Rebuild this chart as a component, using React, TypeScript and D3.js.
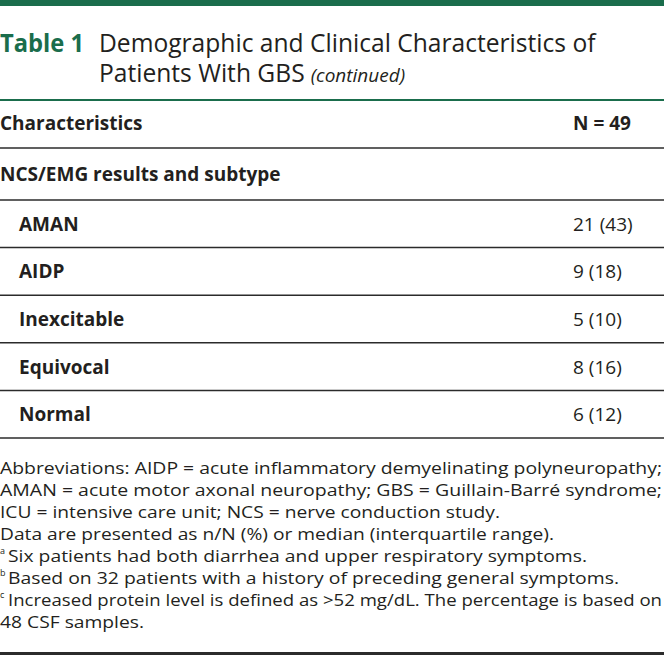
import React from "react";
import * as d3 from "d3";

const titleLabel = "Table 1";
const titleLines = ["Demographic and Clinical Characteristics of", "Patients With GBS"];
const titleSuffix = "(continued)";
const headerLabels = ["Characteristics", "N = 49"];
const sectionLabel = "NCS/EMG results and subtype";
const subtypes = ["AMAN", "AIDP", "Inexcitable", "Equivocal", "Normal"];
const counts = [21, 9, 5, 8, 6];
const percents = [43, 18, 10, 16, 12];
const footnoteSups = ["", "", "", "", "a", "b", "c", ""];
const footnoteTexts = [
  "Abbreviations: AIDP = acute inflammatory demyelinating polyneuropathy;",
  "AMAN = acute motor axonal neuropathy; GBS = Guillain-Barré syndrome;",
  "ICU = intensive care unit; NCS = nerve conduction study.",
  "Data are presented as n/N (%) or median (interquartile range).",
  "Six patients had both diarrhea and upper respiratory symptoms.",
  "Based on 32 patients with a history of preceding general symptoms.",
  "Increased protein level is defined as >52 mg/dL. The percentage is based on",
  "48 CSF samples.",
];

// layout (measured line extents in px)
const noteWidths = [662, 662, 500, 554, 587, 619, 662, 144];

const W = 664;
const H = 655;
const GREEN = "#1a6d4c";
const INK = "#231f20";
const RULE = "#2b2b2b";
const FONT = "'Open Sans', 'Noto Sans', sans-serif";

export default function App() {
  const rowY = d3.scaleLinear().domain([2, 7]).range([200, 438]);
  const noteY = d3.scaleLinear().domain([0, 7]).range([474, 628]);
  const valueX = 573;
  const rowLines = [100, 148, ...d3.range(2, 8).map((i) => rowY(i))];

  return (
    <svg width={W} height={H} style={{ position: "absolute", left: 0, top: 0, background: "#fff" }} fontFamily={FONT}>
      <rect x={0} y={0} width={W} height={6} fill={GREEN} />
      <text x={0} y={52} fontSize={25} fontWeight={700} fill={GREEN} textLength={84} lengthAdjust="spacingAndGlyphs">{titleLabel}</text>
      <text x={99} y={52} fontSize={24.6} fill={INK}>
        <tspan x={99} y={52}>{titleLines[0]}</tspan>
        <tspan x={99} y={82}>{titleLines[1]}</tspan>
        <tspan fontSize={19} fontStyle="italic" dx={6}>{titleSuffix}</tspan>
      </text>
      {rowLines.map((y, i) => (
        <line key={i} x1={0} x2={W} y1={y} y2={y} stroke={i === 0 ? GREEN : RULE} strokeWidth={i === 0 ? 2 : 1.5} />
      ))}
      <text x={0} y={130} fontSize={19} fontWeight={700} fill={INK}>{headerLabels[0]}</text>
      <text x={valueX} y={130} fontSize={19} fontWeight={700} fill={INK}>{headerLabels[1]}</text>
      <text x={0} y={181} fontSize={19} fontWeight={700} fill={INK}>{sectionLabel}</text>
      {subtypes.map((s, i) => {
        const cy = (rowY(i + 2) + rowY(i + 3)) / 2 + 7;
        return (
          <g key={s}>
            <text x={19} y={cy} fontSize={19} fontWeight={700} fill={INK}>{s}</text>
            <text x={valueX} y={cy} fontSize={19} fill={INK}>{`${counts[i]} (${percents[i]})`}</text>
          </g>
        );
      })}
      {footnoteTexts.map((t, i) => {
        const sup = footnoteSups[i];
        const x0 = sup ? 8 : 0;
        return (
          <g key={i}>
            {sup ? <text x={0} y={noteY(i) - 8} fontSize={9} fill={INK}>{sup}</text> : null}
            <text x={x0} y={noteY(i)} fontSize={16.2} fill={INK}
              textLength={noteWidths[i] - x0} lengthAdjust="spacingAndGlyphs">{t}</text>
          </g>
        );
      })}
      <rect x={0} y={652} width={W} height={3} fill={RULE} />
    </svg>
  );
}
